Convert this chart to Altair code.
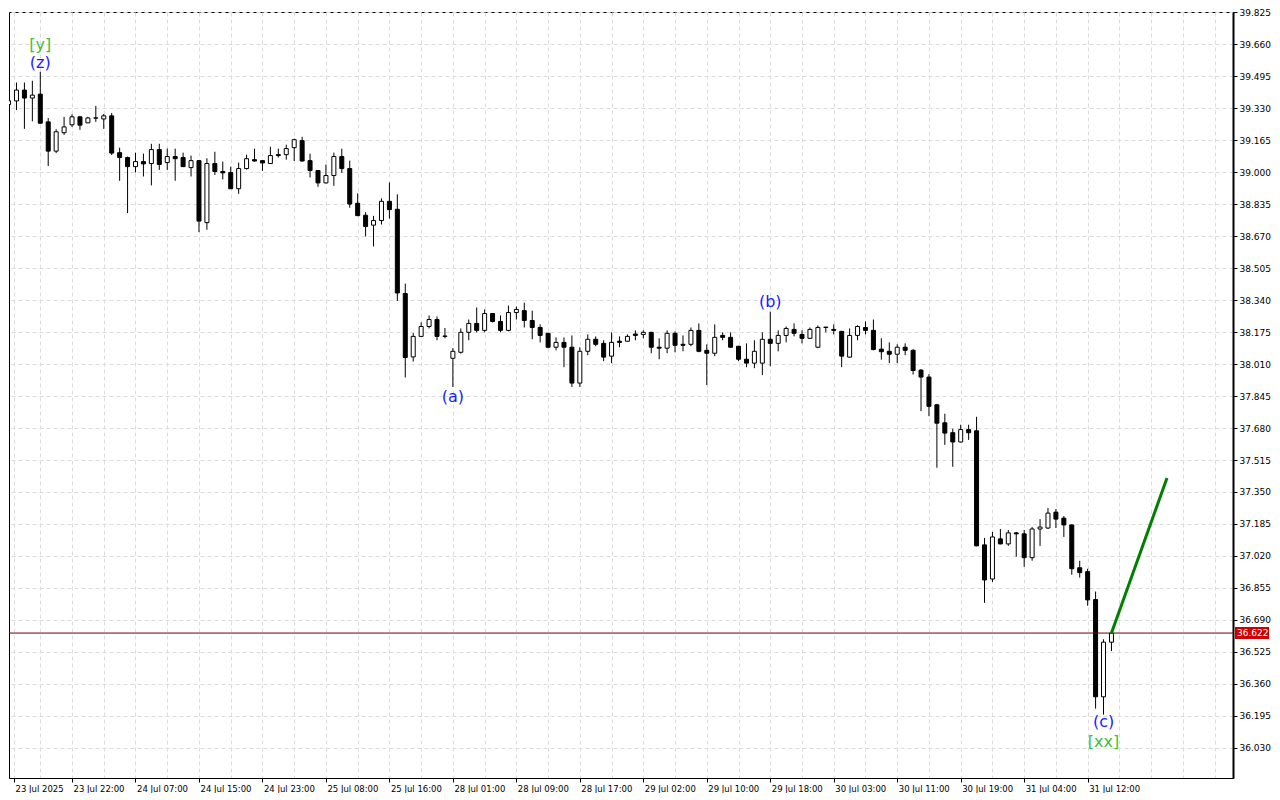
import altair as alt
import pandas as pd

# ---------------- data ----------------
opens = [39.349, 39.368, 39.424, 39.383, 39.403, 39.260, 39.109, 39.204, 39.245, 39.286,
         39.255, 39.279, 39.275, 39.291, 39.101, 39.076, 39.029, 39.055, 39.045, 39.117,
         39.050, 39.081, 39.076, 39.024, 39.060, 38.740, 39.045, 39.004, 38.999, 38.915,
         39.019, 39.065, 39.060, 39.045, 39.091, 39.091, 39.127, 39.163, 39.060, 39.009,
         38.945, 38.983, 39.081, 39.019, 38.840, 38.778, 38.727, 38.751, 38.850, 38.809,
         38.374, 38.047, 38.153, 38.204, 38.240, 38.155, 38.040, 38.071, 38.174, 38.220,
         38.184, 38.271, 38.230, 38.184, 38.276, 38.286, 38.235, 38.199, 38.169, 38.097,
         38.122, 38.097, 37.912, 38.076, 38.138, 38.117, 38.051, 38.128, 38.128, 38.165,
         38.163, 38.174, 38.097, 38.092, 38.169, 38.112, 38.112, 38.184, 38.081, 38.066,
         38.158, 38.148, 38.102, 38.035, 38.015, 38.015, 38.138, 38.117, 38.158, 38.189,
         38.163, 38.143, 38.097, 38.199, 38.189, 38.179, 38.046, 38.158, 38.199, 38.184,
         38.087, 38.076, 38.061, 38.097, 38.081, 37.979, 37.943, 37.800, 37.707, 37.656,
         37.608, 37.672, 37.666, 37.077, 36.901, 37.108, 37.082, 37.139, 37.134, 37.011,
         37.159, 37.164, 37.246, 37.215, 37.180, 36.959, 36.939, 36.795, 36.293, 36.575]
highs = [39.390, 39.463, 39.463, 39.472, 39.518, 39.280, 39.222, 39.286, 39.299, 39.291,
         39.286, 39.342, 39.301, 39.306, 39.127, 39.081, 39.101, 39.096, 39.147, 39.147,
         39.122, 39.122, 39.101, 39.086, 39.062, 39.072, 39.106, 39.055, 39.029, 39.050,
         39.091, 39.122, 39.062, 39.132, 39.122, 39.142, 39.173, 39.183, 39.096, 39.011,
         39.040, 39.101, 39.122, 39.060, 38.891, 38.794, 38.775, 38.865, 38.947, 38.886,
         38.425, 38.170, 38.225, 38.261, 38.256, 38.196, 38.092, 38.194, 38.240, 38.302,
         38.292, 38.273, 38.261, 38.312, 38.307, 38.327, 38.286, 38.215, 38.171, 38.148,
         38.148, 38.158, 38.097, 38.163, 38.153, 38.133, 38.174, 38.153, 38.163, 38.184,
         38.184, 38.176, 38.143, 38.184, 38.179, 38.158, 38.199, 38.220, 38.112, 38.215,
         38.174, 38.174, 38.104, 38.117, 38.133, 38.174, 38.281, 38.184, 38.204, 38.220,
         38.184, 38.199, 38.210, 38.202, 38.215, 38.181, 38.194, 38.210, 38.230, 38.240,
         38.143, 38.122, 38.112, 38.117, 38.087, 37.984, 37.958, 37.805, 37.754, 37.677,
         37.697, 37.697, 37.738, 37.113, 37.144, 37.159, 37.154, 37.144, 37.154, 37.169,
         37.210, 37.267, 37.262, 37.226, 37.182, 36.995, 36.954, 36.836, 36.590, 36.624]
lows = [39.297, 39.321, 39.224, 39.263, 39.250, 39.032, 39.099, 39.193, 39.234, 39.219,
        39.253, 39.260, 39.224, 39.089, 38.956, 38.789, 38.999, 38.978, 38.932, 39.012,
        39.012, 38.956, 39.027, 38.978, 38.691, 38.703, 38.986, 38.963, 38.913, 38.889,
        39.014, 39.055, 39.007, 39.043, 39.076, 39.065, 39.058, 39.055, 38.973, 38.925,
        38.943, 38.930, 38.997, 38.817, 38.774, 38.669, 38.617, 38.730, 38.761, 38.336,
        37.941, 38.023, 38.150, 38.194, 38.133, 38.143, 37.892, 38.064, 38.133, 38.174,
        38.174, 38.225, 38.174, 38.179, 38.240, 38.199, 38.138, 38.122, 38.092, 38.081,
        37.994, 37.892, 37.892, 38.056, 38.102, 38.025, 38.015, 38.097, 38.126, 38.133,
        38.143, 38.066, 38.035, 38.066, 38.071, 38.076, 38.102, 38.071, 37.902, 38.051,
        38.133, 38.095, 38.025, 37.994, 37.989, 37.953, 37.999, 38.076, 38.122, 38.153,
        38.117, 38.141, 38.092, 38.174, 38.163, 37.994, 38.044, 38.133, 38.163, 38.081,
        38.033, 38.015, 38.015, 38.056, 37.956, 37.767, 37.741, 37.475, 37.593, 37.480,
        37.606, 37.619, 37.070, 36.778, 36.886, 37.080, 37.072, 37.016, 36.964, 36.995,
        37.072, 37.159, 37.164, 37.118, 36.923, 36.908, 36.763, 36.232, 36.201, 36.529]
closes = [39.369, 39.424, 39.383, 39.398, 39.253, 39.109, 39.209, 39.234, 39.286, 39.243,
          39.280, 39.281, 39.291, 39.099, 39.076, 39.029, 39.055, 39.043, 39.117, 39.040,
          39.081, 39.070, 39.029, 39.060, 38.748, 39.045, 39.004, 38.997, 38.915, 39.019,
          39.070, 39.058, 39.048, 39.086, 39.086, 39.122, 39.168, 39.058, 39.009, 38.945,
          38.983, 39.081, 39.019, 38.836, 38.776, 38.720, 38.751, 38.850, 38.807, 38.377,
          38.044, 38.153, 38.204, 38.240, 38.153, 38.153, 38.076, 38.174, 38.220, 38.184,
          38.271, 38.230, 38.184, 38.276, 38.292, 38.235, 38.199, 38.158, 38.097, 38.122,
          38.097, 37.912, 38.076, 38.138, 38.112, 38.046, 38.122, 38.122, 38.153, 38.158,
          38.174, 38.097, 38.092, 38.169, 38.107, 38.107, 38.184, 38.076, 38.066, 38.148,
          38.148, 38.097, 38.035, 38.015, 38.076, 38.138, 38.117, 38.158, 38.194, 38.169,
          38.143, 38.189, 38.199, 38.201, 38.184, 38.051, 38.158, 38.204, 38.184, 38.085,
          38.074, 38.061, 38.097, 38.081, 37.977, 37.943, 37.792, 37.705, 37.654, 37.608,
          37.672, 37.656, 37.072, 36.896, 37.118, 37.082, 37.139, 37.134, 37.011, 37.159,
          37.169, 37.241, 37.210, 37.180, 36.954, 36.934, 36.793, 36.293, 36.575, 36.622]

time_labels = ["23 Jul 2025", "23 Jul 22:00", "24 Jul 07:00", "24 Jul 15:00", "24 Jul 23:00",
               "25 Jul 08:00", "25 Jul 16:00", "28 Jul 01:00", "28 Jul 09:00", "28 Jul 17:00",
               "29 Jul 02:00", "29 Jul 10:00", "29 Jul 18:00", "30 Jul 03:00", "30 Jul 11:00",
               "30 Jul 19:00", "31 Jul 04:00", "31 Jul 12:00"]

price_ticks = [39.825, 39.660, 39.495, 39.330, 39.165, 39.000, 38.835, 38.670, 38.505,
               38.340, 38.175, 38.010, 37.845, 37.680, 37.515, 37.350, 37.185, 37.020,
               36.855, 36.690, 36.525, 36.360, 36.195, 36.030]

wave_text = ["[y]", "(z)", "(a)", "(b)", "(c)", "[xx]"]
wave_bar = [4, 4, 56, 96, 138, 138]
wave_price = [39.656, 39.564, 37.842, 38.329, 36.161, 36.059]
wave_color = ["#3cbf3c", "#1a1aff", "#1a1aff", "#1a1aff", "#1a1aff", "#3cbf3c"]

proj_bar = [139, 146]
proj_price = [36.622, 37.422]

# ---------------- frames ----------------
n = len(opens)
df = pd.DataFrame({
    "i": list(range(n)),
    "o": opens, "h": highs, "l": lows, "c": closes,
})
df["dir"] = ["up" if c >= o else "down" for o, c in zip(opens, closes)]

waves = pd.DataFrame({"i": wave_bar, "p": wave_price, "t": wave_text, "col": wave_color})
proj = pd.DataFrame({"i": proj_bar, "p": proj_price})
last = pd.DataFrame({"p": [closes[-1]]})

X0 = 0.6875
BARS_VISIBLE = 153
PLOT_W = 1224
PLOT_H = 766
YMIN, YMAX = 35.874, 39.827
LAST_LABEL = 8 * (len(time_labels) - 1)

label_array = "[" + ",".join("'" + s + "'" for s in time_labels) + "]"
show_test = f"datum.value < 1 || (datum.value % 8 === 0 && datum.value <= {LAST_LABEL})"
label_expr = f"({show_test}) ? " + label_array + "[round(datum.value / 8)] : ''"

x_axis = alt.Axis(
    values=[X0] + list(range(4, 153, 4)),
    labelExpr=label_expr,
    tickOpacity={"condition": {"test": show_test, "value": 1}, "value": 0},
    grid=True, gridDash=[4, 3], gridColor="#dcdcdc", gridWidth=1,
    domainColor="black", domainWidth=1,
    tickColor="black", tickSize=4,
    labelAlign="left", labelBaseline="top", labelPadding=2, labelOffset=1,
    labelFont="DejaVu Sans", labelFontSize=8.5, labelColor="black",
    labelOverlap=False, labelFlush=False, labelBound=False,
    title=None,
)
y_axis = alt.Axis(
    orient="right", values=price_ticks, format=".3f",
    grid=True, gridDash=[4, 3], gridColor="#dcdcdc", gridWidth=1,
    domainColor="black", domainWidth=2,
    tickColor="black", tickSize=4,
    labelFont="DejaVu Sans", labelFontSize=9, labelColor="black",
    labelPadding=2, labelOverlap=False, labelFlush=False, labelBound=False,
    title=None,
)

xs = alt.Scale(domain=[X0, X0 + BARS_VISIBLE], nice=False, zero=False)
ys = alt.Scale(domain=[YMIN, YMAX], nice=False, zero=False)


def X(field):
    return alt.X(field, scale=xs, axis=x_axis, title=None)


def Y(field):
    return alt.Y(field, scale=ys, axis=y_axis, title=None)


wicks = alt.Chart(df).mark_rule(color="black", strokeWidth=1, clip=True).encode(
    x=X("i:Q"), y=Y("l:Q"), y2="h:Q",
)

bodies = alt.Chart(df).mark_bar(size=4, stroke="black", strokeWidth=1, clip=True).encode(
    x=X("i:Q"), y=Y("o:Q"), y2="c:Q",
    fill=alt.Fill("dir:N", scale=alt.Scale(domain=["up", "down"], range=["white", "black"]), legend=None),
)

price_line = alt.Chart(last).mark_rule(color="#6e0000", strokeWidth=1).encode(
    y=Y("p:Q"),
)

tag = alt.Chart(last).mark_tick(orient="horizontal", size=34, thickness=12,
                                color="#cc0000", opacity=1, filled=True).encode(
    x=alt.value(PLOT_W + 19),
    y=Y("p:Q"),
)
tag_text = alt.Chart(last).mark_text(align="left", baseline="middle", color="white",
                                     font="DejaVu Sans", fontSize=9).encode(
    x=alt.value(PLOT_W + 4),
    y=Y("p:Q"),
    text=alt.Text("p:Q", format=".3f"),
)

proj_line = alt.Chart(proj).mark_line(color="#008000", strokeWidth=3).encode(
    x=X("i:Q"), y=Y("p:Q"),
)

wave_labels = alt.Chart(waves).mark_text(font="DejaVu Sans", fontSize=16,
                                         align="center", baseline="middle").encode(
    x=X("i:Q"), y=Y("p:Q"),
    text="t:N",
    color=alt.Color("col:N", scale=None, legend=None),
)

chart = alt.layer(
    wicks, bodies, price_line, proj_line, wave_labels, tag, tag_text
).properties(
    width=PLOT_W, height=PLOT_H, padding=0, background="white",
).configure_axis(
    labelOverlap=False,
).configure_view(
    stroke="black", strokeWidth=1,
)

chart.save("out.html", embed_options={"renderer": "svg", "actions": False})
